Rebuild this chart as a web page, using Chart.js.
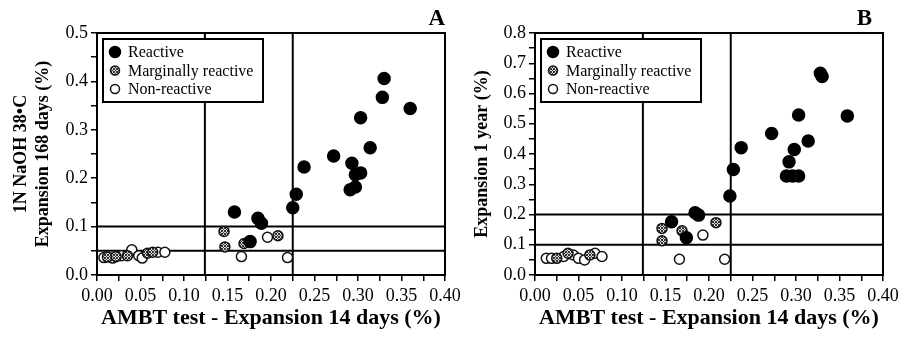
<!DOCTYPE html>
<html>
<head>
<meta charset="utf-8">
<script src="https://cdn.jsdelivr.net/npm/chart.js@4.4.1/dist/chart.umd.min.js"></script>
<style>
  body { margin: 0; background: #fff; }
  .wrap { position: absolute; top: 0; }
</style>
</head>
<body>
<div class="wrap" style="left:0"><canvas id="chartA" width="475" height="340"></canvas></div>
<div class="wrap" style="left:455px"><canvas id="chartB" width="456" height="340"></canvas></div>
<script>
// [x, y] pares (expansion %)
const aReactive = [[0.330,0.406],[0.328,0.367],[0.360,0.344],[0.303,0.325],[0.314,0.263],[0.272,0.246],
  [0.238,0.223],[0.293,0.231],[0.303,0.211],[0.297,0.207],[0.297,0.182],[0.291,0.176],[0.229,0.167],
  [0.225,0.139],[0.158,0.130],[0.185,0.117],[0.189,0.107],[0.176,0.069]];
const aMarginal = [[0.146,0.090],[0.147,0.058],[0.169,0.065],[0.208,0.081],[0.012,0.037],[0.022,0.038],
  [0.035,0.040],[0.058,0.045],[0.064,0.047]];
const aNonReactive = [[0.196,0.078],[0.166,0.038],[0.219,0.036],[0.008,0.036],[0.018,0.035],[0.028,0.040],
  [0.040,0.052],[0.048,0.040],[0.052,0.035],[0.070,0.047],[0.078,0.047]];

const bReactive = [[0.328,0.667],[0.330,0.656],[0.303,0.529],[0.359,0.526],[0.272,0.468],[0.314,0.443],
  [0.237,0.421],[0.298,0.415],[0.292,0.374],[0.289,0.327],[0.296,0.327],[0.303,0.327],[0.228,0.349],
  [0.224,0.261],[0.184,0.206],[0.188,0.198],[0.157,0.176],[0.174,0.123]];
const bMarginal = [[0.146,0.154],[0.146,0.113],[0.169,0.146],[0.208,0.173],[0.025,0.055],[0.038,0.072],[0.063,0.066]];
const bNonReactive = [[0.193,0.132],[0.166,0.052],[0.218,0.052],[0.013,0.055],[0.019,0.055],[0.033,0.061],
  [0.044,0.066],[0.050,0.055],[0.057,0.050],[0.069,0.072],[0.077,0.061]];

const seriesLabels = ['Reactive', 'Marginally reactive', 'Non-reactive'];
const vLines = [0.124, 0.225];
const aHLines = [0.05, 0.1];
const bHLines = [0.1, 0.2];
const xTitle = 'AMBT test - Expansion 14 days (%)';
const aYTitle = ['1N NaOH 38\u2022C', 'Expansion 168 days (%)'];
const bYTitle = 'Expansion 1 year (%)';

const serif = 'Liberation Serif';

// patron gris cuadriculado para "marginally reactive"
function makePattern() {
    const c = document.createElement('canvas');
    c.width = 3; c.height = 3;
    const g = c.getContext('2d');
    g.fillStyle = '#d8d8d8';
    g.fillRect(0, 0, 3, 3);
    g.fillStyle = '#333';
    g.fillRect(0, 0, 1, 1);
    g.fillRect(2, 0, 1, 1);
    g.fillRect(1, 1, 1, 1);
    g.fillRect(0, 2, 1, 1);
    g.fillRect(2, 2, 1, 1);
    return g.createPattern(c, 'repeat');
}
const hatch = makePattern();

const styles = [
    { bg: '#000', border: '#000', r: 6 },
    { bg: hatch, border: '#111', r: 5 },
    { bg: '#fff', border: '#111', r: 5 }
];

const toPts = arr => arr.map(p => ({ x: p[0], y: p[1] }));

const framePlugin = {
    id: 'frame',
    beforeDatasetsDraw(chart, args, opts) {
        const { ctx, chartArea: a, scales } = chart;
        ctx.save();
        ctx.strokeStyle = '#000';
        ctx.lineWidth = 2;
        opts.vLines.forEach(v => {
            const x = scales.x.getPixelForValue(v);
            ctx.beginPath(); ctx.moveTo(x, a.top); ctx.lineTo(x, a.bottom); ctx.stroke();
        });
        opts.hLines.forEach(v => {
            const y = scales.y.getPixelForValue(v);
            ctx.beginPath(); ctx.moveTo(a.left, y); ctx.lineTo(a.right, y); ctx.stroke();
        });
        ctx.strokeRect(a.left, a.top, a.right - a.left, a.bottom - a.top);
        ctx.restore();
    },
    afterDraw(chart, args, opts) {
        const { ctx, chartArea: a } = chart;
        ctx.save();
        // leyenda con marco
        const lx = a.left + 6, ly = a.top + 6, lw = 160, lh = 63;
        ctx.fillStyle = '#fff';
        ctx.fillRect(lx, ly, lw, lh);
        ctx.strokeStyle = '#000';
        ctx.lineWidth = 2;
        ctx.strokeRect(lx, ly, lw, lh);
        ctx.font = '16px "' + serif + '"';
        ctx.textBaseline = 'middle';
        chart.data.datasets.forEach((ds, i) => {
            const y = ly + 13 + i * 18.5;
            ctx.beginPath();
            ctx.arc(lx + 12, y, i === 0 ? 5.5 : 4.5, 0, Math.PI * 2);
            ctx.fillStyle = ds.backgroundColor;
            ctx.fill();
            ctx.lineWidth = 1.5;
            ctx.strokeStyle = ds.borderColor;
            ctx.stroke();
            ctx.fillStyle = '#000';
            ctx.fillText(ds.label, lx + 25, y + 1);
        });
        // letra del panel
        ctx.font = 'bold 23px "' + serif + '"';
        ctx.textAlign = 'right';
        ctx.textBaseline = 'alphabetic';
        ctx.fillText(opts.letter, a.right - opts.letterShift, a.top - 8);
        ctx.restore();
    }
};

function makeChart(id, sets, yMax, yTitle, hLines, letter, letterShift, yWidth, titlePad, padRight) {
    const ctx = document.getElementById(id).getContext('2d');
    return new Chart(ctx, {
        type: 'scatter',
        data: {
            datasets: sets.map((s, i) => ({
                label: seriesLabels[i],
                data: toPts(s),
                backgroundColor: styles[i].bg,
                borderColor: styles[i].border,
                borderWidth: 1.5,
                pointRadius: styles[i].r,
                pointHoverRadius: styles[i].r
            }))
        },
        options: {
            responsive: false,
            animation: false,
            layout: { padding: { left: 0, right: padRight, top: 33, bottom: 0 } },
            plugins: {
                legend: { display: false },
                tooltip: { enabled: false },
                frame: { vLines: vLines, hLines: hLines, letter: letter, letterShift: letterShift }
            },
            scales: {
                x: {
                    type: 'linear', min: 0, max: 0.4,
                    afterFit: s => { s.height = 65; s.paddingLeft = 0; s.paddingRight = 0; },
                    ticks: {
                        stepSize: 0.025, autoSkip: false, maxRotation: 0, padding: 4,
                        color: '#000', font: { family: serif, size: 18 },
                        callback: v => (Math.round(v * 1000) % 50 === 0 ? v.toFixed(2) : '')
                    },
                    grid: { drawOnChartArea: false, tickLength: 6, color: '#000', lineWidth: 1.5 },
                    border: { color: '#000', width: 2 },
                    title: {
                        display: true, text: xTitle, color: '#000', padding: { top: 0, bottom: 8 },
                        font: { family: serif, size: 22, weight: 'bold' }
                    }
                },
                y: {
                    min: 0, max: yMax,
                    afterFit: s => { s.width = yWidth; s.paddingTop = 0; s.paddingBottom = 0; },
                    ticks: {
                        stepSize: 0.05, autoSkip: false, padding: 3,
                        color: '#000', font: { family: serif, size: 18 },
                        callback: v => (Math.round(v * 100) % 10 === 0 ? v.toFixed(1) : '')
                    },
                    grid: { drawOnChartArea: false, tickLength: 6, color: '#000', lineWidth: 1.5 },
                    border: { color: '#000', width: 2 },
                    title: {
                        display: true, text: yTitle, color: '#000', padding: { top: titlePad, bottom: 0 },
                        font: { family: serif, size: 18, weight: 'bold' }
                    }
                }
            }
        },
        plugins: [framePlugin]
    });
}

makeChart('chartA', [aReactive, aMarginal, aNonReactive], 0.5, aYTitle, aHLines, 'A', 0, 97, 11, 30);
makeChart('chartB', [bReactive, bMarginal, bNonReactive], 0.8, bYTitle, bHLines, 'B', 11, 80, 17, 28);
</script>
</body>
</html>
